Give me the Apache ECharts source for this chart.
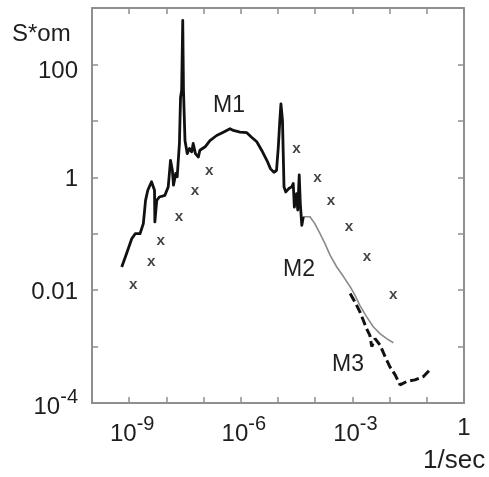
<!DOCTYPE html>
<html>
<head>
<meta charset="utf-8">
<script src="https://cdn.jsdelivr.net/npm/echarts@6/dist/echarts.min.js"></script>
<style>html,body{margin:0;padding:0;background:#fff}#c{width:489px;height:477px}</style>
</head>
<body>
<div id="c"></div>
<script>
// M1: measured spectrum (frequency in 1/sec, S*om)
const m1Freq = [6.3e-10, 8.5e-10, 1.17e-9, 1.45e-9, 1.95e-9, 2.4e-9, 2.75e-9, 3.16e-9, 3.98e-9, 4.47e-9,
  4.79e-9, 4.9e-9, 5.5e-9, 6.46e-9, 9.1e-9, 1.12e-8, 1.29e-8, 1.45e-8, 1.55e-8, 1.78e-8,
  1.95e-8, 2.24e-8, 2.4e-8, 2.57e-8, 2.75e-8, 2.88e-8, 3.16e-8, 3.63e-8, 4.17e-8, 4.79e-8,
  5.25e-8, 6.03e-8, 7.24e-8, 7.94e-8, 8.91e-8, 1.1e-7, 1.48e-7, 2.24e-7, 3.39e-7, 5.13e-7,
  6.31e-7, 9.55e-7, 1.45e-6, 1.95e-6, 2.69e-6, 3.63e-6, 5.01e-6, 6.31e-6, 7.76e-6, 9.12e-6,
  1.02e-5, 1.12e-5, 1.2e-5, 1.32e-5, 1.45e-5, 1.62e-5, 1.95e-5, 2.34e-5, 2.57e-5, 2.75e-5,
  3.16e-5, 3.39e-5, 3.72e-5, 3.98e-5, 4.37e-5, 4.79e-5];
const m1Val = [0.0257, 0.0447, 0.0813, 0.1, 0.1, 0.151, 0.389, 0.589, 0.832, 0.832,
  0.589, 0.162, 0.389, 0.447, 0.479, 0.676, 2.0, 1.32, 0.724, 1.17,
  1.02, 3.98, 26.3, 34.7, 603, 34.7, 4.47, 2.63, 3.24, 2.82,
  3.98, 2.63, 2.29, 3.02, 3.24, 3.47, 4.47, 5.5, 6.31, 7.24,
  6.76, 6.31, 6.17, 5.13, 4.27, 3.02, 2.0, 1.41, 1.23, 1.32,
  3.47, 10.2, 20.0, 10.2, 0.676, 0.55, 0.631, 0.676, 0.776, 0.295,
  0.513, 0.263, 1.10, 0.339, 0.141, 0.2];

// M2: thin grey model curve
const m2Freq = [4.79e-5, 7.24e-5, 9.77e-5, 1.35e-4, 1.82e-4, 2.51e-4, 3.8e-4, 5.75e-4, 8.71e-4,
  1.17e-3, 1.58e-3, 2.4e-3, 3.63e-3, 5.5e-3, 8.32e-3, 1.26e-2];
const m2Val = [0.2, 0.2, 0.151, 0.1, 0.0676, 0.0417, 0.0257, 0.0174, 0.0115,
  0.00813, 0.00537, 0.00339, 0.00224, 0.0017, 0.00138, 0.00117];

// M3: dashed black curve
const m3Freq = [8.71e-4, 1.17e-3, 1.58e-3, 1.95e-3, 2.4e-3, 2.95e-3, 3.31e-3, 4.07e-3, 5.5e-3,
  7.59e-3, 1.02e-2, 1.41e-2, 1.91e-2, 2.88e-2, 4.79e-2, 8.13e-2, 0.117];
const m3Val = [0.0087, 0.00617, 0.00417, 0.00295, 0.00209, 0.00158, 0.001, 0.00138, 0.00107,
  6.6e-4, 4.37e-4, 3.16e-4, 2.09e-4, 2.4e-4, 2.57e-4, 2.95e-4, 3.8e-4];

// x markers
const markFreq = [1.29e-9, 3.89e-9, 7.08e-9, 2.19e-8, 5.89e-8, 1.41e-7, 3.16e-5, 1.15e-4, 2.66e-4, 8.13e-4, 2.45e-3, 1.26e-2];
const markVal = [0.0123, 0.0316, 0.0741, 0.2, 0.562, 1.29, 3.09, 0.977, 0.38, 0.13, 0.038, 0.00813];

// tick labels (decade exponents that carry a label)
const xLabelExps = [-9, -6, -3, 0];
const yLabelExps = [-4, -2, 0, 2];

const pairs = (xs, ys) => xs.map((x, i) => [x, ys[i]]);

const SANS = '"Liberation Sans", Arial, sans-serif';
const TXT = '#1e1e1e';
const FRAME = '#8f8f8f';

const xRich = {
  b: { fontSize: 24, fontFamily: SANS, color: TXT, lineHeight: 32, verticalAlign: 'bottom', padding: [0, 0, 0, 6] },
  s: { fontSize: 20, fontFamily: SANS, color: TXT, lineHeight: 20, verticalAlign: 'top' },
  o: { fontSize: 24, fontFamily: SANS, color: TXT, lineHeight: 26, verticalAlign: 'bottom' }
};
const yRich = {
  b: { fontSize: 24, fontFamily: SANS, color: TXT, lineHeight: 28, verticalAlign: 'bottom' },
  s: { fontSize: 20, fontFamily: SANS, color: TXT, lineHeight: 20, verticalAlign: 'top' },
  h: { fontSize: 24, fontFamily: SANS, color: TXT, lineHeight: 28, padding: [14, 0, 0, 0] },
  t: { fontSize: 24, fontFamily: SANS, color: TXT, lineHeight: 32, verticalAlign: 'bottom' }
};

function xFmt(v) {
  const e = Math.round(Math.log10(v));
  if (!xLabelExps.includes(e)) return '';
  if (e === 0) return '{o|1}';
  return '{b|10}{s|' + e + '}';
}
function yFmt(v) {
  const e = Math.round(Math.log10(v));
  if (!yLabelExps.includes(e)) return '';
  if (e === 2) return '{h|100}';
  if (e === 0) return '{b|1}';
  if (e === -2) return '{b|0.01}';
  return '{t|10}{s|' + e + '}';
}

const axisCommon = {
  type: 'log', logBase: 10, interval: 1,
  axisLine: { show: true, lineStyle: { color: FRAME, width: 2 } },
  axisTick: { show: true, inside: true, length: 6, lineStyle: { color: FRAME, width: 1.5 } },
  splitLine: { show: false },
  minorTick: { show: false }
};

const chart = echarts.init(document.getElementById('c'), null, { renderer: 'canvas' });
chart.setOption({
  animation: false,
  backgroundColor: '#fff',
  grid: { left: 92, right: 25, top: 8, bottom: 74, containLabel: false },
  xAxis: [
    Object.assign({}, axisCommon, { min: 1e-10, max: 1, position: 'bottom',
      axisLabel: { show: true, margin: 11, formatter: xFmt, rich: xRich, showMinLabel: true, showMaxLabel: true, hideOverlap: false } }),
    Object.assign({}, axisCommon, { min: 1e-10, max: 1, position: 'top', axisLabel: { show: false } })
  ],
  yAxis: [
    Object.assign({}, axisCommon, { min: 1e-4, max: 1000, position: 'left',
      axisLabel: { show: true, margin: 14, formatter: yFmt, rich: yRich, showMinLabel: true, showMaxLabel: true, hideOverlap: false } }),
    Object.assign({}, axisCommon, { min: 1e-4, max: 1000, position: 'right', axisLabel: { show: false } })
  ],
  series: [
    { type: 'line', name: 'M2', data: pairs(m2Freq, m2Val), showSymbol: false, symbol: 'none',
      lineStyle: { color: '#8a8a8a', width: 1.6 }, z: 2 },
    { type: 'line', name: 'M3', data: pairs(m3Freq, m3Val), showSymbol: false, symbol: 'none',
      lineStyle: { color: '#111', width: 3, type: [9, 4] }, z: 3 },
    { type: 'line', name: 'M1', data: pairs(m1Freq, m1Val), showSymbol: false, symbol: 'none',
      lineStyle: { color: '#111', width: 2.8, join: 'round' }, z: 4 },
    { type: 'scatter', name: 'x', data: pairs(markFreq, markVal), symbol: 'circle', symbolSize: 2,
      itemStyle: { color: 'rgba(255,255,255,0)' },
      label: { show: true, position: 'inside', formatter: 'x', color: '#111', fontWeight: 'bold',
        fontSize: 15, fontFamily: '"Liberation Mono", "DejaVu Sans Mono", monospace' }, z: 5 }
  ],
  graphic: [
    { type: 'text', left: 12, top: 22, style: { text: 'S*om', font: '24px ' + SANS, fill: TXT } },
    { type: 'text', left: 423, top: 448, style: { text: '1/sec', font: '26px ' + SANS, fill: TXT } },
    { type: 'text', left: 213, top: 94, style: { text: 'M1', font: '23px ' + SANS, fill: TXT } },
    { type: 'text', left: 283, top: 258, style: { text: 'M2', font: '23px ' + SANS, fill: TXT } },
    { type: 'text', left: 332, top: 353, style: { text: 'M3', font: '23px ' + SANS, fill: TXT } }
  ]
});
</script>
</body>
</html>
